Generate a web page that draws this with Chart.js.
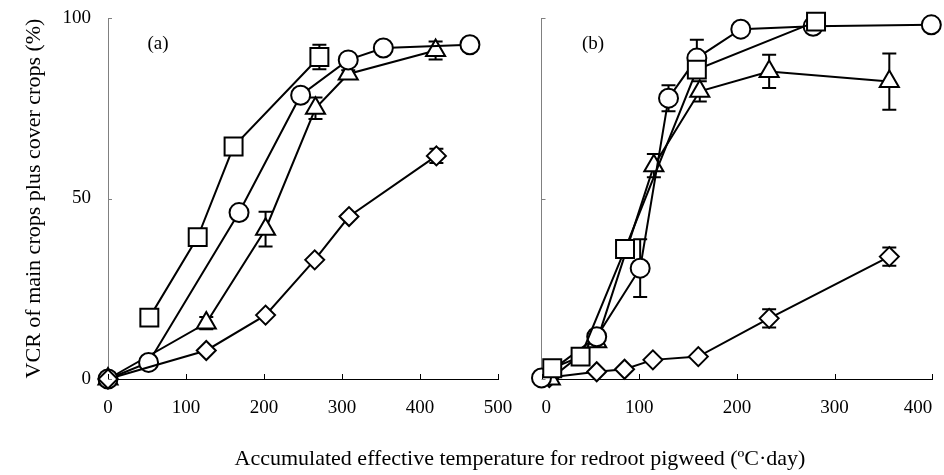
<!DOCTYPE html>
<html>
<head>
<meta charset="utf-8">
<script src="https://cdn.jsdelivr.net/npm/chart.js@4"></script>
<style>
  body { margin: 0; background: #fff; }
  #wrap { position: relative; width: 944px; height: 475px; font-family: "Liberation Serif", "Times New Roman", serif; }
  canvas { position: absolute; top: 0; }
  #xtitle { position: absolute; left: 0; width: 1040px; top: 445px; text-align: center; font-size: 22px; line-height: 26px; color: #000; white-space: nowrap; }
</style>
</head>
<body>
<div id="wrap">
  <canvas id="chartA" width="520" height="475" style="left:0"></canvas>
  <canvas id="chartB" width="424" height="475" style="left:520px"></canvas>
  <div id="xtitle">Accumulated effective temperature for redroot pigweed (ºC·day)</div>
</div>
<script>
// panel (a)
var aSquareX   = [53, 115, 161, 271]
var aSquareY   = [17, 39.3, 64.4, 89.2]
var aSquareErr = [0, 0, 0, 3.4]
var aCircleX   = [0, 52, 168, 247, 308, 353, 464]
var aCircleY   = [0, 4.6, 46.1, 78.6, 88.4, 91.7, 92.6]
var aCircleErr = [0, 0, 0, 0, 0, 0, 0]
var aTriX      = [0, 126, 202, 266, 308, 420]
var aTriY      = [0, 15.5, 41.5, 75, 84.5, 91]
var aTriErr    = [0, 1.7, 4.8, 3, 1, 2.5]
var aDiaX      = [0, 126, 202, 265, 309, 421]
var aDiaY      = [0, 7.9, 17.7, 33, 45, 61.8]
var aDiaErr    = [0, 0, 0, 0, 0, 2]

// panel (b)
var bSquareX   = [11, 40, 85.5, 159, 281]
var bSquareY   = [3, 6.2, 36, 85.7, 99]
var bSquareErr = [0, 0, 0, 0, 0]
var bCircleX   = [0, 56.5, 101, 130, 159, 204, 278, 399]
var bCircleY   = [0.3, 11.7, 30.7, 77.8, 88.9, 96.9, 97.7, 98.1]
var bCircleErr = [0, 0, 8, 3.6, 5.1, 0, 0, 0]
var bTriX      = [9, 56.5, 115, 162, 233, 356]
var bTriY      = [0, 10.3, 59.1, 79.7, 85.2, 82.4]
var bTriErr    = [0, 0, 3.2, 2.8, 4.6, 7.8]
var bDiaX      = [8, 56.5, 85, 114, 160.5, 233, 356]
var bDiaY      = [0.4, 2, 2.7, 5.3, 6.2, 16.8, 33.9]
var bDiaErr    = [0, 0, 0, 0, 0, 2.5, 2.5]

var yTicks = [0, 50, 100]
var aXTicks = [0, 100, 200, 300, 400, 500]
var bXTicks = [0, 100, 200, 300, 400]

var FONT = "'Liberation Serif', 'Times New Roman', serif"

function pts(xs, ys) {
  var out = []
  for (var i = 0; i < xs.length; i++) out.push({x: xs[i], y: ys[i]})
  return out
}

function series(xs, ys, err, style, radius) {
  return {
    data: pts(xs, ys),
    errors: err,
    borderColor: '#000',
    borderWidth: 2,
    pointStyle: style,
    pointRadius: radius,
    pointBorderWidth: 2,
    pointBackgroundColor: '#fff',
    pointBorderColor: '#000',
    clip: false,
    tension: 0
  }
}

// error bars under the markers
var errorBars = {
  id: 'errorBars',
  beforeDatasetsDraw: function(chart) {
    var c = chart.ctx
    c.save()
    c.strokeStyle = '#000'
    c.lineWidth = 2
    chart.data.datasets.forEach(function(ds) {
      ds.data.forEach(function(p, i) {
        var e = ds.errors[i]
        if (!e) return
        var x = chart.scales.x.getPixelForValue(p.x)
        var y1 = chart.scales.y.getPixelForValue(p.y + e)
        var y2 = chart.scales.y.getPixelForValue(p.y - e)
        c.beginPath()
        c.moveTo(x, y1); c.lineTo(x, y2)
        c.moveTo(x - 7, y1); c.lineTo(x + 7, y1)
        c.moveTo(x - 7, y2); c.lineTo(x + 7, y2)
        c.stroke()
      })
    })
    c.restore()
  }
}

// inward tick marks and panel letter
var innerTicks = {
  id: 'innerTicks',
  afterDraw: function(chart, args, opts) {
    var c = chart.ctx
    var xs = chart.scales.x, ys = chart.scales.y
    var area = chart.chartArea
    c.save()
    c.lineWidth = 1
    c.strokeStyle = '#000'
    c.beginPath()
    xs.ticks.forEach(function(t) {
      var x = Math.round(xs.getPixelForValue(t.value)) + 0.5
      c.moveTo(x, area.bottom); c.lineTo(x, area.bottom - 5)
    })
    c.stroke()
    c.strokeStyle = '#808080'
    c.beginPath()
    ys.ticks.forEach(function(t) {
      var y = Math.round(ys.getPixelForValue(t.value)) + 0.5
      c.moveTo(area.left, y); c.lineTo(area.left + 4, y)
    })
    c.stroke()
    c.fillStyle = '#000'
    c.font = '19px ' + FONT
    c.textAlign = 'center'
    c.textBaseline = 'middle'
    c.fillText(opts.label, opts.lx, opts.ly)
    c.restore()
  }
}

function noPad(s) {
  s.paddingTop = 0; s.paddingBottom = 0; s.paddingLeft = 0; s.paddingRight = 0
}

function makeChart(id, sets, xTicks, xMax, showY, yWidth, padRight, label, lx, xAlign) {
  return new Chart(document.getElementById(id), {
    type: 'line',
    data: { datasets: sets },
    options: {
      responsive: false,
      animation: false,
      layout: { padding: { top: 18, right: padRight, bottom: 0, left: 0 }, autoPadding: false },
      plugins: {
        legend: { display: false },
        tooltip: { enabled: false },
        innerTicks: { label: label, lx: lx, ly: 44 }
      },
      scales: {
        x: {
          type: 'linear', min: 0, max: xMax,
          afterBuildTicks: function(s) { s.ticks = xTicks.map(function(v) { return {value: v} }) },
          afterFit: function(s) { s.height = 96; noPad(s) },
          grid: { display: false, drawTicks: false },
          border: { color: '#000', width: 1 },
          ticks: { color: '#000', padding: 18, maxRotation: 0, align: xAlign, font: { family: FONT, size: 19 } }
        },
        y: {
          min: 0, max: 100,
          afterBuildTicks: function(s) { s.ticks = yTicks.map(function(v) { return {value: v} }) },
          afterFit: function(s) { s.width = yWidth; noPad(s) },
          grid: { display: false, drawTicks: false },
          border: { color: '#808080', width: 1 },
          ticks: { display: showY, color: '#000', padding: 17, font: { family: FONT, size: 19 } },
          title: {
            display: showY,
            text: 'VCR of main crops plus cover crops (%)',
            color: '#000',
            padding: { top: 21, bottom: 0 },
            font: { family: FONT, size: 22 }
          }
        }
      }
    },
    plugins: [errorBars, innerTicks]
  })
}

makeChart('chartA', [
  series(aSquareX, aSquareY, aSquareErr, 'rect', 12.7),
  series(aDiaX, aDiaY, aDiaErr, 'rectRot', 9.5),
  series(aCircleX, aCircleY, aCircleErr, 'circle', 9.5),
  series(aTriX, aTriY, aTriErr, 'triangle', 11)
], aXTicks, 500, true, 108, 22, '(a)', 158, 'center')

makeChart('chartB', [
  series(bSquareX, bSquareY, bSquareErr, 'rect', 12.7),
  series(bCircleX, bCircleY, bCircleErr, 'circle', 9.5),
  series(bTriX, bTriY, bTriErr, 'triangle', 11),
  series(bDiaX, bDiaY, bDiaErr, 'rectRot', 9.5)
], bXTicks, 400, false, 21.5, 11.7, '(b)', 73, 'inner')
</script>
</body>
</html>
